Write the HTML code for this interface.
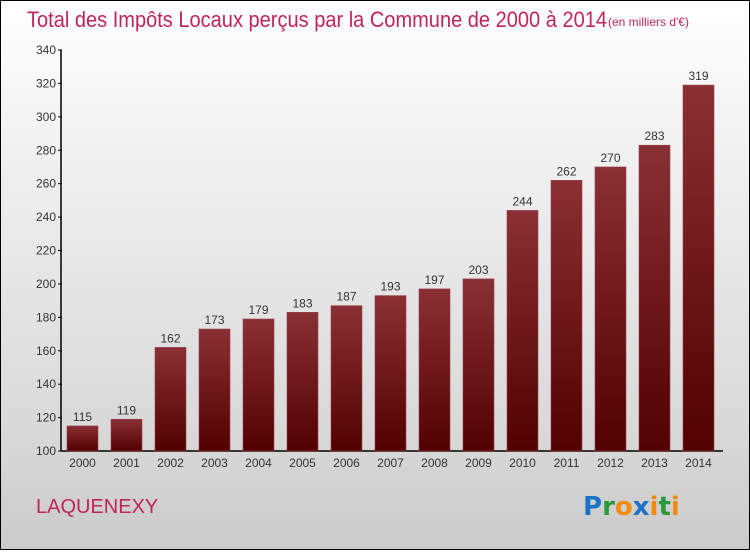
<!DOCTYPE html>
<html><head><meta charset="utf-8"><style>
html,body{margin:0;padding:0;}
body{width:750px;height:550px;overflow:hidden;font-family:"Liberation Sans",sans-serif;}
#wrap{position:absolute;left:0;top:0;width:748px;height:548px;border:1px solid #000;background:linear-gradient(#ffffff,#f2f2f2 25%,#d8d8d8 80%,#cacaca);}
</style></head><body>
<div id="wrap">
<svg id="chart" width="748" height="548" xmlns="http://www.w3.org/2000/svg">
<defs>
<linearGradient id="bg" x1="0" y1="0" x2="0" y2="1"><stop offset="0" stop-color="#8a3034"/><stop offset="1" stop-color="#520000"/></linearGradient>
</defs>
<text x="26" y="26" font-size="22" fill="#c0255a" font-weight="300" textLength="580" lengthAdjust="spacingAndGlyphs">Total des Impôts Locaux perçus par la Commune de 2000 à 2014</text>
<text x="607" y="25" font-size="12" fill="#c0255a">(en milliers d'€)</text>
<text x="35" y="512" font-size="20" fill="#c0255a">LAQUENEXY</text>
<g font-family="'DejaVu Sans',sans-serif" font-size="26" font-weight="bold">
<text x="582" y="514"><tspan fill="#1a73c8">P</tspan><tspan fill="#2a9a3a">r</tspan><tspan fill="#f08a10">o</tspan><tspan fill="#1a73c8">x</tspan><tspan fill="#f08a10">i</tspan><tspan fill="#2a9a3a">t</tspan><tspan fill="#f08a10">i</tspan></text>
</g>
<g id="axes"></g>
<g id="bars"></g>
</svg>
</div>
<script>
const categories=["2000","2001","2002","2003","2004","2005","2006","2007","2008","2009","2010","2011","2012","2013","2014"];
const values=[115,119,162,173,179,183,187,193,197,203,244,262,270,283,319];
const yTicks=[100,120,140,160,180,200,220,240,260,280,300,320,340];
const NS="http://www.w3.org/2000/svg";
const y0=450,y1=49,vmin=100,vmax=340;
function yScale(v){return y0-(v-vmin)/(vmax-vmin)*(y0-y1);}
function xScale(i){return 81+i*44;}
function mk(t,a,p){const e=document.createElementNS(NS,t);for(const k in a)e.setAttribute(k,a[k]);p.appendChild(e);return e;}
const ax=document.getElementById('axes'),bars=document.getElementById('bars');
const yl=mk('line',{x1:60,y1:y1,x2:60,y2:y0,stroke:'#000','stroke-width':1.5},ax);


const xl=mk('line',{x1:60,y1:y0,x2:722,y2:y0,stroke:'#000','stroke-width':1.5},ax);


yTicks.forEach(v=>{
 const y=yScale(v);
 mk('line',{x1:57,y1:y,x2:61,y2:y,stroke:'#000'},ax);
 const t=mk('text',{x:55,y:y+4,'text-anchor':'end','font-size':12,fill:'#333'},ax);
 t.textContent=v;
 
 
});
categories.forEach((c,i)=>{
 const x=xScale(i),v=values[i],y=yScale(v);
 const r=mk('rect',{x:x-15,y:y,width:31,height:y0-y,fill:'url(#bg)',stroke:'#9a4048','stroke-width':0.6},bars);
 
 
 const vl=mk('text',{x:x+0.5,y:y-5,'text-anchor':'middle','font-size':12,fill:'#333'},bars);
 vl.textContent=v;
 
 
 const xt=mk('text',{x:x+0.5,y:466,'text-anchor':'middle','font-size':12,fill:'#333'},ax);
 xt.textContent=c;
 
 
});
</script>
</body></html>
